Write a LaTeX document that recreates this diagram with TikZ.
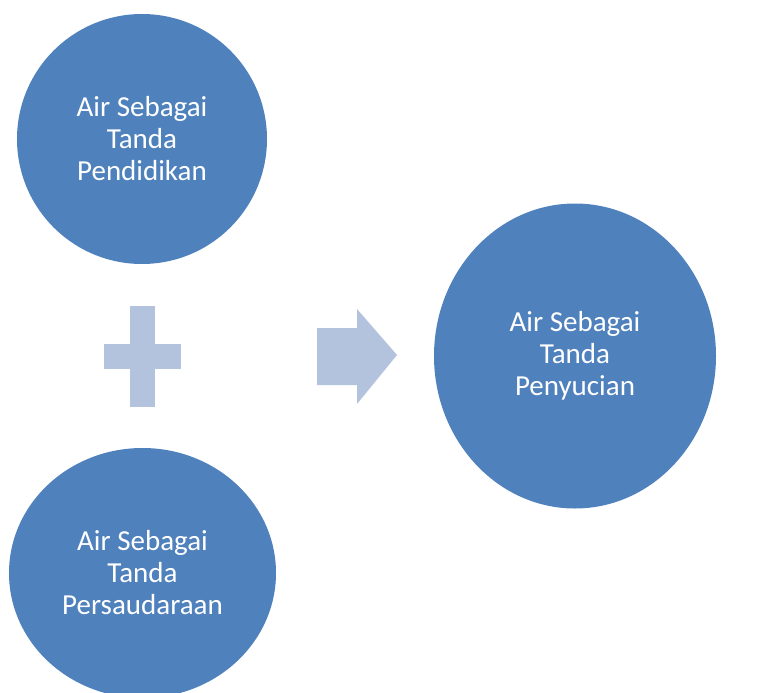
\documentclass[tikz,border=0pt]{standalone}
\usepackage{fontspec}
\setmainfont{Carlito}
\usepackage{tikz}
\usetikzlibrary{positioning,shapes.geometric}
\definecolor{circblue}{HTML}{4F81BD}
\definecolor{signblue}{HTML}{B3C3DE}
\tikzset{font=\fontsize{29}{32}\selectfont}
\tikzstyle{circ}=[ellipse,fill=circblue,text=white,align=center,inner sep=0pt]
\tikzstyle{sign}=[fill=signblue]

\begin{document}
\begin{tikzpicture}[x=1pt,y=-1pt]
\useasboundingbox (0,0) rectangle (779,693);
\clip (0,0) rectangle (779,693);
\node[circ,minimum width=250pt,minimum height=250pt] (A) at (142,139) {Air Sebagai\\Tanda\\Pendidikan};
\node[circ,minimum width=267pt,minimum height=250pt] (B) at (142.5,573) {Air Sebagai\\Tanda\\Persaudaraan};
\node[circ,minimum width=282pt,minimum height=305pt] (C) at (575,356) {Air Sebagai\\Tanda\\Penyucian};
%plus
\fill[sign] (130,306) rectangle (155,407);
\fill[sign] (104,344) rectangle (181,369);
%arrow
\fill[sign] (317,328) -- (357,328) -- (357,309) -- (397,355)
 -- (357,404) -- (357,385) -- (317,385) -- cycle;
\end{tikzpicture}
\end{document}
